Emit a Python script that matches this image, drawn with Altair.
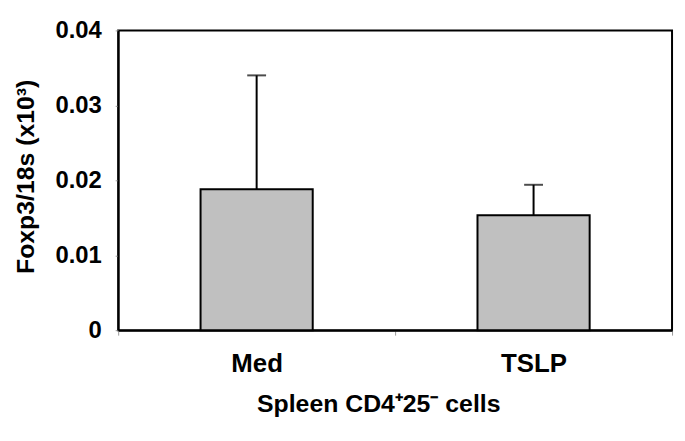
import altair as alt
import pandas as pd

categories = ["Med", "TSLP"]
means = [0.0188, 0.01535]
upper = [0.0340, 0.0194]

df = pd.DataFrame({"cat": categories, "mean": means, "upper": upper})

FONT = "Liberation Sans"

x = alt.X("cat:N", sort=categories,
          scale=alt.Scale(paddingInner=0, paddingOuter=0),
          axis=alt.Axis(title="Spleen CD4\u207a25\u207b cells", labelAngle=0,
                        tickBand="extent", tickSize=5, tickColor="#999999",
                        labelAlign="center", labelBaseline="top",
                        labelPadding=16, labelFontSize=26, labelFontWeight="bold",
                        titleFontSize=25, titleFontWeight="bold",
                        titleX=262, titleY=74, titleBaseline="middle",
                        titleAnchor="start", titleAlign="center"))
y = alt.Y("mean:Q", scale=alt.Scale(domain=[0, 0.04], nice=False),
          axis=alt.Axis(title="Foxp3/18s (x10\u00b3)", values=[0, 0.01, 0.02, 0.03, 0.04],
                        labelExpr="datum.value == 0 ? '0' : format(datum.value, '.2f')",
                        grid=False, tickSize=3, tickColor="#999999",
                        labelPadding=14, labelFontSize=24, labelFontWeight="bold",
                        titleFontSize=25, titleFontWeight="bold",
                        titleAngle=-90, titleX=-93, titleY=147,
                        titleAlign="center", titleBaseline="middle"))

bars = alt.Chart(df).mark_bar(size=113, fill="#c0c0c0", stroke="black", strokeWidth=2).encode(x=x, y=y)
rules = alt.Chart(df).mark_rule(color="black", strokeWidth=2).encode(
    x=alt.X("cat:N", sort=categories), y="mean:Q", y2="upper:Q")
caps = alt.Chart(df).mark_tick(color="black", size=19, thickness=2).encode(
    x=alt.X("cat:N", sort=categories), y="upper:Q")

chart = alt.layer(rules, bars, caps).properties(
    width=558, height=302,
    autosize=alt.AutoSizeParams(type="none"),
    padding={"left": 111, "top": 21, "right": 5, "bottom": 100},
).configure_view(stroke="black", strokeWidth=2).configure_axis(
    domainColor="black", domainWidth=2, labelFont=FONT, titleFont=FONT,
    labelColor="black", titleColor="black"
)

chart.save("out.html", embed_options={"renderer": "svg", "actions": False})
